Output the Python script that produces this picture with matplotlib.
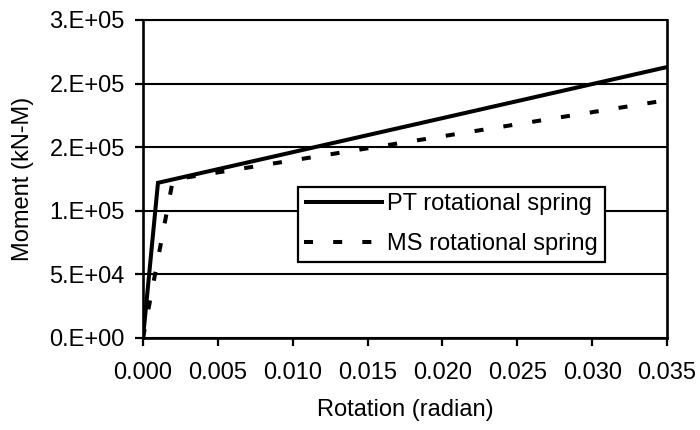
import matplotlib
matplotlib.use("Agg")
import matplotlib.pyplot as plt

# Moment-rotation curves of the two spring models
pt_rotation = [0.0, 0.001, 0.035]
pt_moment = [0.0, 122000.0, 213000.0]

ms_rotation = [0.0, 0.002, 0.035]
ms_moment = [0.0, 124500.0, 187000.0]

series_labels = ["PT rotational spring", "MS rotational spring"]

x_ticks = [0.000, 0.005, 0.010, 0.015, 0.020, 0.025, 0.030, 0.035]
x_tick_labels = ["0.000", "0.005", "0.010", "0.015", "0.020", "0.025", "0.030", "0.035"]
y_ticks = [0, 50000, 100000, 150000, 200000, 250000]
y_tick_labels = ["0.E+00", "5.E+04", "1.E+05", "2.E+05", "2.E+05", "3.E+05"]

plt.rcParams["font.family"] = ["Liberation Sans", "DejaVu Sans"]
plt.rcParams["lines.scale_dashes"] = False

FS = 17

fig = plt.figure(figsize=(7.0, 4.3), dpi=100)
ax = fig.add_axes([143 / 700, 1 - 338 / 430, 524 / 700, 318 / 430])

ax.plot(pt_rotation, pt_moment, color="black", lw=2.9,
        solid_capstyle="butt", solid_joinstyle="miter", label=series_labels[0])
ax.plot(ms_rotation, ms_moment, color="black", lw=2.9,
        dashes=(6.5, 14.5), dash_capstyle="butt", label=series_labels[1])

ax.set_xlim(0, 0.035)
ax.set_ylim(0, 250000)
ax.set_xticks(x_ticks)
ax.set_xticklabels(x_tick_labels)
ax.set_yticks(y_ticks)
ax.set_yticklabels(y_tick_labels)

ax.grid(axis="y", color="black", lw=1.5)
ax.set_axisbelow(True)
for side in ["left", "bottom", "right"]:
    ax.spines[side].set_linewidth(1.9)
ax.spines["top"].set_linewidth(1.5)

ax.tick_params(axis="both", direction="out", length=6, width=1.6,
               labelsize=FS, color="black")
ax.tick_params(axis="y", pad=7)
ax.tick_params(axis="x", pad=11)

ax.set_xlabel("Rotation (radian)", fontsize=FS, labelpad=11)
ax.set_ylabel("Moment (kN-M)", fontsize=FS, labelpad=11)

leg = ax.legend(loc="upper left", bbox_to_anchor=(0.295, 0.476),
                fontsize=FS, handlelength=3.4, handletextpad=0.12,
                labelspacing=0.75, borderpad=0.28, borderaxespad=0,
                frameon=True, fancybox=False, shadow=False)
frame = leg.get_frame()
frame.set_edgecolor("black")
frame.set_linewidth(1.6)
frame.set_facecolor("white")
frame.set_alpha(1)

fig.savefig("out.png", dpi=100)
